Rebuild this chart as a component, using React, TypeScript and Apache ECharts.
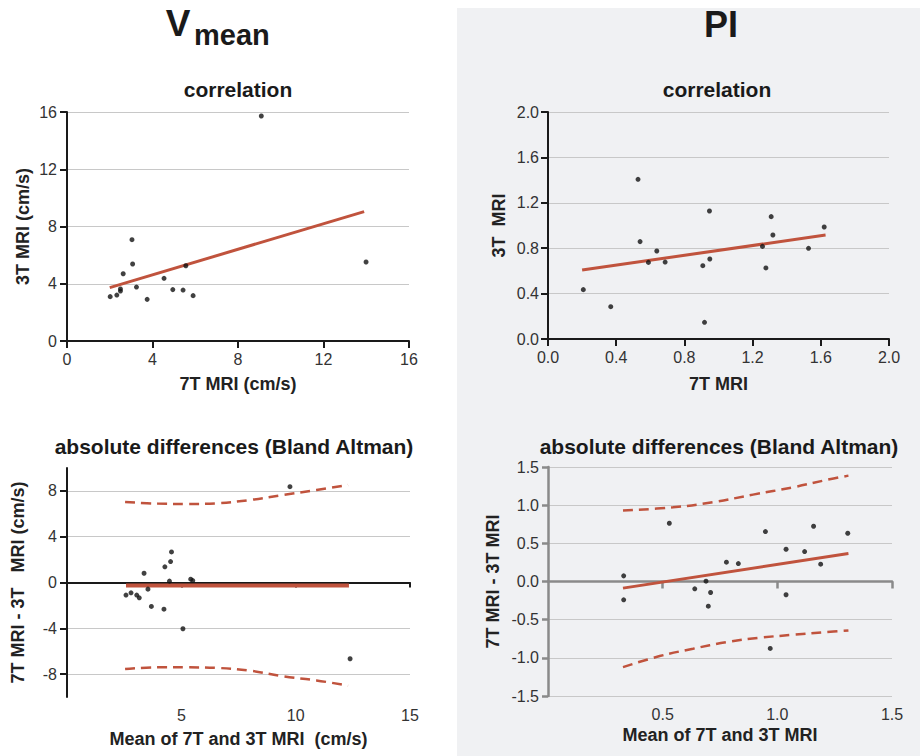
import React, { useEffect, useRef } from "react";
import * as echarts from "echarts";

// ---- Data ----
// V mean correlation: 7T vs 3T (cm/s)
const vmean7T = [2.02, 2.33, 2.5, 2.5, 2.63, 3.04, 3.07, 3.25, 3.75, 4.54, 4.95, 5.43, 5.56, 5.9, 9.09, 13.99];
const vmean3T = [3.1, 3.21, 3.49, 3.64, 4.7, 7.08, 5.38, 3.77, 2.91, 4.38, 3.59, 3.56, 5.26, 3.17, 15.72, 5.52];
const vmeanFitX = [2.0, 13.9];
const vmeanFitY = [3.73, 9.04];

// PI correlation
const pi7T = [0.207, 0.368, 0.528, 0.54, 0.589, 0.638, 0.687, 0.908, 0.918, 0.947, 0.949, 1.258, 1.278, 1.309, 1.319, 1.528, 1.62];
const pi3T = [0.435, 0.285, 1.407, 0.858, 0.675, 0.775, 0.678, 0.646, 0.147, 1.128, 0.705, 0.816, 0.626, 1.078, 0.916, 0.799, 0.987];
const piFitX = [0.2, 1.628];
const piFitY = [0.608, 0.916];

// V mean Bland Altman
const vbaMean = [2.58, 2.8, 3.05, 3.16, 3.37, 3.54, 3.69, 4.24, 4.28, 4.48, 4.53, 4.57, 5.07, 5.41, 5.5, 9.75, 12.38];
const vbaDiff = [-1.1, -0.9, -1.1, -1.34, 0.81, -0.58, -2.09, -2.33, 1.37, 0.12, 1.83, 2.67, -4.04, 0.29, 0.17, 8.37, -6.66];
const vbaBiasX = [2.58, 12.33];
const vbaBiasY = [-0.26, -0.26];
const vbaUpperX = [2.54, 3.95, 5.25, 6.56, 8.01, 9.46, 10.91, 12.29];
const vbaUpperY = [7.03, 6.89, 6.86, 6.92, 7.21, 7.65, 8.08, 8.52];
const vbaLowerX = [2.54, 3.95, 5.25, 6.56, 8.01, 9.46, 10.91, 12.29];
const vbaLowerY = [-7.56, -7.41, -7.41, -7.46, -7.7, -8.2, -8.55, -9.01];

// PI Bland Altman
const pbaMean = [0.33, 0.33, 0.529, 0.64, 0.689, 0.699, 0.709, 0.778, 0.83, 0.948, 0.969, 1.038, 1.038, 1.119, 1.158, 1.189, 1.307];
const pbaDiff = [0.074, -0.24, 0.763, -0.096, 0.004, -0.323, -0.144, 0.253, 0.235, 0.654, -0.877, 0.423, -0.174, 0.392, 0.724, 0.227, 0.632];
const pbaFitX = [0.327, 1.31];
const pbaFitY = [-0.087, 0.366];
const pbaUpperX = [0.327, 0.545, 0.719, 0.894, 1.068, 1.214, 1.31];
const pbaUpperY = [0.929, 0.972, 1.038, 1.138, 1.234, 1.33, 1.387];
const pbaLowerX = [0.327, 0.487, 0.632, 0.778, 0.923, 1.068, 1.214, 1.31];
const pbaLowerY = [-1.121, -0.977, -0.881, -0.794, -0.737, -0.698, -0.663, -0.641];

// Tick labels
const vmeanTicks = [0, 4, 8, 12, 16];
const vbaYTicks = [-8, -4, 0, 4, 8];
const vbaXTicks = [5, 10, 15];
const pbaXTicks = [0.5, 1.0, 1.5];

const FONT = "'Liberation Sans', Arial, Helvetica, sans-serif";
const RED = "#c0533d";
const GRIDC = "#c8c8c8";
const DARK = "#1a1a1a";
const GRAY = "#8a8a8a";

const zip = (a: number[], b: number[]) => a.map((v, i) => [v, b[i]]);
const fix1 = (v: number) => (Math.round(v * 10) / 10).toFixed(1);

const labelStyle = { fontSize: 16, color: "#333", fontFamily: FONT };
const nameStyle = { fontSize: 18, fontWeight: "bold", color: "#222", fontFamily: FONT };

export default function App() {
  const ref = useRef<HTMLDivElement>(null);
  useEffect(() => {
    if (!ref.current) return;
    const chart = echarts.init(ref.current, undefined, { renderer: "svg" });

    const scatter = (x: number, y: number, data: number[][]) => ({
      type: "scatter",
      xAxisIndex: x,
      yAxisIndex: y,
      data,
      symbolSize: 5,
      itemStyle: { color: "#111" },
      z: 4,
    });
    const line = (x: number, y: number, data: number[][], width: number, dashed = false) => ({
      type: "line",
      xAxisIndex: x,
      yAxisIndex: y,
      data,
      showSymbol: false,
      symbol: "none",
      smooth: dashed ? 0.4 : false,
      lineStyle: { color: RED, width, type: dashed ? [10, 6] : "solid", cap: "butt" },
      z: 3,
    });
    const title = (text: string, x: number, y: number, size: number, align = "center") => ({
      type: "text",
      x,
      y,
      style: { text, fontSize: size, fontWeight: "bold", fontFamily: FONT, fill: DARK, align, verticalAlign: "middle" },
    });

    const option: any = {
      animation: false,
      backgroundColor: "#ffffff",
      graphic: [
        { type: "rect", z: -10, silent: true, shape: { x: 457, y: 8, width: 463, height: 748 }, style: { fill: "#f0f1f3" } },
        title("V", 178, 23, 37),
        title("mean", 194, 35, 29, "left"),
        title("PI", 721, 24, 36),
        title("correlation", 238, 89, 21),
        title("correlation", 717, 89, 21),
        title("absolute differences (Bland Altman)", 234, 446, 21),
        title("absolute differences (Bland Altman)", 719, 446, 21),
      ],
      grid: [
        { left: 67, top: 112, width: 342, height: 229 },
        { left: 548, top: 112, width: 341, height: 227 },
        { left: 67, top: 468, width: 343, height: 229 },
        { left: 548, top: 467, width: 344, height: 229 },
      ],
      xAxis: [
        {
          gridIndex: 0, type: "value", min: 0, max: 16, interval: 4,
          axisLine: { onZero: false, lineStyle: { color: DARK, width: 2 } },
          axisTick: { length: 7, lineStyle: { color: DARK, width: 2 } },
          axisLabel: { ...labelStyle, margin: 10 },
          splitLine: { show: false },
          name: "7T MRI (cm/s)", nameLocation: "middle", nameGap: 34, nameTextStyle: nameStyle,
        },
        {
          gridIndex: 1, type: "value", min: 0, max: 2, interval: 0.4,
          axisLine: { onZero: false, lineStyle: { color: DARK, width: 2 } },
          axisTick: { length: 7, lineStyle: { color: DARK, width: 2 } },
          axisLabel: { ...labelStyle, margin: 10, formatter: (v: number) => fix1(v) },
          splitLine: { show: false },
          name: "7T MRI", nameLocation: "middle", nameGap: 36, nameTextStyle: nameStyle,
        },
        {
          gridIndex: 2, type: "value", min: 0, max: 15, interval: 5,
          axisLine: { onZero: true, lineStyle: { color: DARK, width: 2 } },
          axisTick: { length: 5, customValues: vbaXTicks, lineStyle: { color: DARK, width: 2 } },
          axisLabel: { show: false },
          splitLine: { show: false },
        },
        {
          gridIndex: 2, type: "value", min: 0, max: 15, interval: 5, position: "bottom",
          axisLine: { show: false, onZero: false },
          axisTick: { show: false },
          axisLabel: { ...labelStyle, margin: 10, customValues: vbaXTicks },
          splitLine: { show: false },
          name: "Mean of 7T and 3T MRI  (cm/s)", nameLocation: "middle", nameGap: 33, nameTextStyle: nameStyle,
        },
        {
          gridIndex: 3, type: "value", min: 0, max: 1.5, interval: 0.5,
          axisLine: { onZero: true, lineStyle: { color: GRAY, width: 2.5 } },
          axisTick: { length: 7, customValues: pbaXTicks, lineStyle: { color: GRAY, width: 2.5 } },
          axisLabel: { show: false },
          splitLine: { show: false },
        },
        {
          gridIndex: 3, type: "value", min: 0, max: 1.5, interval: 0.5, position: "bottom",
          axisLine: { show: false, onZero: false },
          axisTick: { show: false },
          axisLabel: { ...labelStyle, margin: 10, customValues: pbaXTicks, formatter: (v: number) => fix1(v) },
          splitLine: { show: false },
          name: "Mean of 7T and 3T MRI", nameLocation: "middle", nameGap: 30, nameTextStyle: nameStyle,
        },
      ],
      yAxis: [
        {
          gridIndex: 0, type: "value", min: 0, max: 16, interval: 2,
          axisLine: { onZero: false, lineStyle: { color: DARK, width: 2 } },
          axisTick: { length: 7, customValues: vmeanTicks, lineStyle: { color: DARK, width: 2 } },
          axisLabel: { ...labelStyle, margin: 10, customValues: vmeanTicks },
          splitLine: { show: true, lineStyle: { color: GRIDC, width: 1 } },
          name: "3T MRI (cm/s)", nameLocation: "middle", nameGap: 35, nameTextStyle: nameStyle,
        },
        {
          gridIndex: 1, type: "value", min: 0, max: 2, interval: 0.4,
          axisLine: { onZero: false, lineStyle: { color: DARK, width: 2 } },
          axisTick: { length: 7, lineStyle: { color: DARK, width: 2 } },
          axisLabel: { ...labelStyle, margin: 9, formatter: (v: number) => fix1(v) },
          splitLine: { show: true, lineStyle: { color: GRIDC, width: 1 } },
          name: "3T  MRI", nameLocation: "middle", nameGap: 40, nameTextStyle: nameStyle,
        },
        {
          gridIndex: 2, type: "value", min: -10, max: 10, interval: 2,
          axisLine: { onZero: false, lineStyle: { color: DARK, width: 2 } },
          axisTick: { length: 7, customValues: vbaYTicks, lineStyle: { color: DARK, width: 2 } },
          axisLabel: { ...labelStyle, margin: 10, customValues: vbaYTicks },
          splitLine: { show: true, lineStyle: { color: GRIDC, width: 1 } },
          name: "7T MRI - 3T   MRI (cm/s)", nameLocation: "middle", nameGap: 40, nameTextStyle: nameStyle,
        },
        {
          gridIndex: 3, type: "value", min: -1.5, max: 1.5, interval: 0.5,
          axisLine: { onZero: false, lineStyle: { color: GRAY, width: 2.5 } },
          axisTick: { length: 6, lineStyle: { color: GRAY, width: 2.5 } },
          axisLabel: { ...labelStyle, margin: 9, formatter: (v: number) => fix1(v) },
          splitLine: { show: true, lineStyle: { color: GRIDC, width: 1 } },
          name: "7T MRI - 3T MRI", nameLocation: "middle", nameGap: 46, nameTextStyle: nameStyle,
        },
      ],
      series: [
        scatter(0, 0, zip(vmean7T, vmean3T)),
        line(0, 0, zip(vmeanFitX, vmeanFitY), 3),
        scatter(1, 1, zip(pi7T, pi3T)),
        line(1, 1, zip(piFitX, piFitY), 3),
        scatter(2, 2, zip(vbaMean, vbaDiff)),
        line(2, 2, zip(vbaBiasX, vbaBiasY), 4),
        line(2, 2, zip(vbaUpperX, vbaUpperY), 2.5, true),
        line(2, 2, zip(vbaLowerX, vbaLowerY), 2.5, true),
        scatter(4, 3, zip(pbaMean, pbaDiff)),
        line(4, 3, zip(pbaFitX, pbaFitY), 3),
        line(4, 3, zip(pbaUpperX, pbaUpperY), 2.5, true),
        line(4, 3, zip(pbaLowerX, pbaLowerY), 2.5, true),
      ],
    };
    chart.setOption(option);
    return () => chart.dispose();
  }, []);
  return <div ref={ref} style={{ position: "absolute", left: 0, top: 0, width: 920, height: 756 }} />;
}
